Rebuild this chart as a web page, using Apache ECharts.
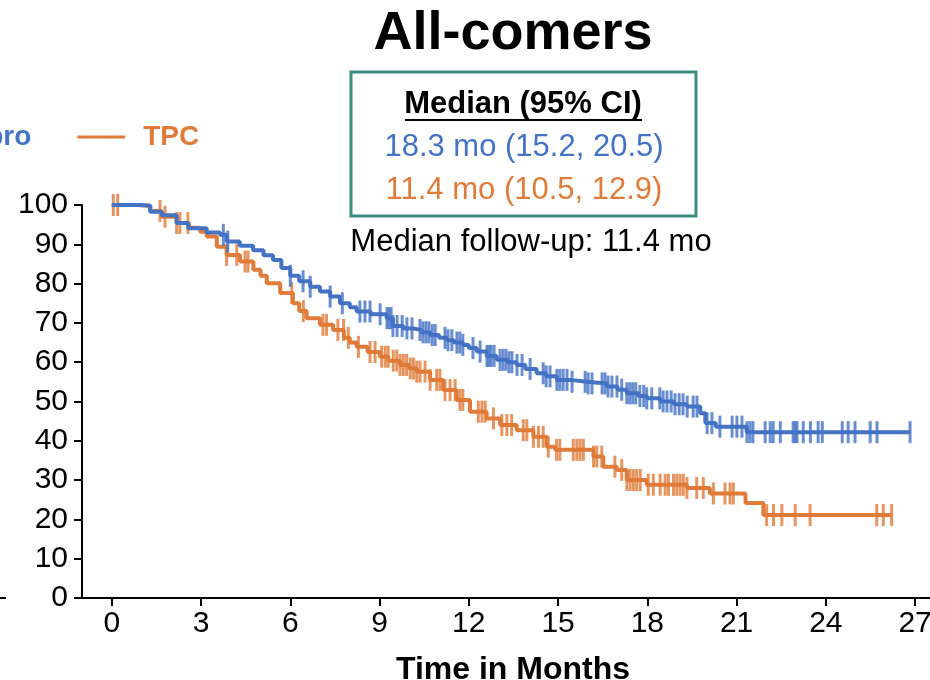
<!DOCTYPE html>
<html>
<head>
<meta charset="utf-8">
<title>All-comers</title>
<script src="https://cdn.jsdelivr.net/npm/echarts@6/dist/echarts.min.js"></script>
</head>
<body style="margin:0;background:#fff">
<div id="main" style="width:930px;height:680px;"></div>
<script type="text/javascript">
var xTicks = [0, 3, 6, 9, 12, 15, 18, 21, 24, 27];
var seriesNames = ['Pembro', 'TPC'];
var colors = ['#4472C4', '#E07B39'];

// step points [month, % surviving]
var blueSteps = [
  [0, 100], [0.95, 99.8], [1.29, 98.3], [1.68, 97.4], [2.18, 95.4], [2.57, 94.1],
  [3.19, 93], [3.64, 92.4], [3.86, 90.7], [4.3, 89.6], [4.75, 88.5], [5.1, 87.2],
  [5.42, 86], [5.7, 84], [6.0, 82], [6.3, 80.6], [6.67, 79.2], [7.0, 78],
  [7.34, 76.7], [7.67, 75], [8.0, 74], [8.23, 72.9], [8.7, 72.2], [9.24, 71.2],
  [9.45, 69.2], [9.8, 68.6], [10.13, 68.2], [10.4, 67.6], [10.7, 66.9], [11.0, 66.2],
  [11.26, 65.6], [11.5, 65], [11.8, 64.4], [12.0, 63.6], [12.27, 62.7], [12.6, 61.6],
  [12.94, 60.6], [13.3, 60], [13.61, 59.3], [13.9, 58.3], [14.28, 57.2], [14.6, 56.4],
  [14.96, 55.5], [15.4, 55], [15.96, 54.6], [16.64, 53.8], [17.0, 53], [17.31, 52.1],
  [17.7, 51.4], [17.98, 50.8], [18.43, 50], [18.9, 49.3], [19.33, 48.7], [19.78, 47],
  [19.95, 44.5], [20.3, 43.6], [21.34, 42.2], [26.83, 42.2]
];
var orangeSteps = [
  [0, 100], [0.84, 99.8], [1.3, 98.5], [1.68, 97], [2.18, 95.4], [2.6, 94.2],
  [2.97, 93.2], [3.19, 92], [3.53, 89.4], [3.86, 87.3], [4.31, 85.6], [4.76, 83.5],
  [5.0, 82], [5.21, 80.1], [5.66, 77.6], [6.09, 75], [6.3, 73], [6.55, 71.2],
  [7.0, 69.5], [7.44, 68.2], [7.8, 66.2], [8.0, 65], [8.23, 63.9], [8.6, 62.6],
  [9.02, 61.4], [9.3, 60.4], [9.69, 59.3], [10.0, 58.4], [10.25, 57.6], [10.7, 55.5],
  [11.14, 52.9], [11.59, 50.4], [12.04, 47.4], [12.6, 45.7], [13.05, 44], [13.61, 42.7],
  [14.17, 41], [14.62, 38.5], [14.9, 37.7], [16.19, 36], [16.52, 33.4], [16.97, 32.6],
  [17.31, 30], [17.98, 28.8], [19.33, 28], [20.1, 26.6], [21.3, 24.2], [21.9, 21.1],
  [26.21, 21.1]
];

// censored times (months)
var blueCensor = [
  3.75, 3.9, 6.0, 6.43, 6.67, 7.34, 7.75,
  8.34, 8.51, 8.68, 9.02, 9.25, 9.32, 9.39, 9.45, 9.59, 9.76, 9.92, 10.09,
  10.36, 10.46, 10.56, 10.66, 10.77, 10.87, 11.2, 11.3, 11.43, 11.6, 11.7, 11.8,
  12.14, 12.38, 12.61, 12.68, 12.75, 12.85, 13.05, 13.15, 13.25, 13.35, 13.45,
  13.62, 13.79, 14.06, 14.5, 14.6, 14.73, 14.96, 15.06, 15.17, 15.3, 15.47,
  15.91, 16.01, 16.14, 16.48, 16.58, 16.68, 16.81, 16.98, 17.14, 17.31, 17.41,
  17.51, 17.61, 17.75, 17.88, 17.98, 18.15, 18.42, 18.53, 18.66, 18.8, 18.93,
  19.07, 19.2, 19.34, 19.54, 19.67, 20.01, 20.17, 20.44, 20.85, 21.01, 21.18,
  21.35, 21.45, 21.55, 21.96, 22.13, 22.23, 22.47, 22.9, 22.97, 23.03, 23.24,
  23.48, 23.74, 23.88, 24.55, 24.75, 24.98, 25.49, 25.72, 26.83
];
var orangeCensor = [
  0.05, 0.2, 1.62, 1.79, 2.18, 2.29, 2.56, 3.86, 4.2, 4.48, 4.58, 6.05, 6.44,
  7.1, 7.22, 7.6, 7.79, 7.95, 8.29, 8.68, 8.85, 9.07, 9.19, 9.29, 9.46, 9.58,
  9.69, 9.8, 9.91, 10.03, 10.14, 10.25, 10.36, 10.53, 10.7, 10.92, 11.03, 11.2,
  11.37, 11.54, 11.7, 11.8, 12.32, 12.44, 12.55, 12.83, 13.11, 13.28, 13.44,
  13.83, 13.95, 14.17, 14.34, 14.5, 14.67, 14.95, 15.06, 15.51, 15.63, 15.74,
  15.85, 16.19, 16.3, 16.47, 16.91, 17.14, 17.31, 17.42, 17.53, 17.64, 17.76,
  18.03, 18.2, 18.43, 18.6, 18.71, 18.88, 18.99, 19.1, 19.21, 19.33, 19.66,
  19.88, 20.22, 20.61, 20.78, 20.89, 22.01, 22.24, 22.52, 22.97, 23.47,
  25.71, 25.93, 26.21
];

function survAt(steps, t) {
  var v = steps[0][1];
  for (var i = 0; i < steps.length; i++) {
    if (steps[i][0] <= t) v = steps[i][1];
  }
  return v;
}
function marks(steps, times) {
  return times.map(function (t) { return [t, survAt(steps, t)]; });
}

var font = 'Liberation Sans, Arial, sans-serif';
var myChart = echarts.init(document.getElementById('main'));

option = {
  animation: false,
  textStyle: { fontFamily: font },
  legend: {
    data: seriesNames,
    left: -144,
    top: 118,
    icon: 'rect',
    itemWidth: 48,
    itemHeight: 3,
    itemGap: 46,
    textStyle: { fontSize: 28, fontWeight: 'bold', fontFamily: font, padding: [0, 0, 0, 13], color: 'inherit' }
  },
  grid: { left: 82, right: 0, top: 205, bottom: 82, containLabel: false, outerBoundsMode: 'none' },
  xAxis: {
    type: 'value',
    min: -1,
    max: 27.5,
    name: 'Time in Months',
    nameLocation: 'middle',
    nameGap: 56,
    nameTextStyle: { fontSize: 32, fontWeight: 'bold', color: '#000', fontFamily: font, padding: [0, 0, 0, 14] },
    axisLine: { lineStyle: { color: '#000', width: 2 } },
    axisTick: { customValues: xTicks, length: 8, lineStyle: { color: '#000', width: 2 } },
    axisLabel: { customValues: xTicks, fontSize: 30, color: '#000', margin: 11 },
    splitLine: { show: false }
  },
  yAxis: {
    type: 'value',
    min: 0,
    max: 100,
    interval: 10,
    axisLine: { show: true, onZero: false, lineStyle: { color: '#000', width: 2 } },
    axisTick: { show: true, length: 8, lineStyle: { color: '#000', width: 2 } },
    axisLabel: { fontSize: 30, color: '#000', margin: 14 },
    splitLine: { show: false }
  },
  graphic: [
    { type: 'text', x: 513, y: 34, style: { text: 'All-comers', font: 'bold 54px ' + font, fill: '#000', textAlign: 'center', textVerticalAlign: 'middle' } },
    { type: 'rect', shape: { x: 351, y: 72, width: 345, height: 144 }, style: { fill: 'none', stroke: '#3C8C7C', lineWidth: 3 } },
    { type: 'text', x: 523, y: 104, style: { text: 'Median (95% CI)', font: 'bold 31px ' + font, fill: '#000', textAlign: 'center', textVerticalAlign: 'middle' } },
    { type: 'line', shape: { x1: 405, y1: 120, x2: 642, y2: 120 }, style: { stroke: '#000', lineWidth: 2 } },
    { type: 'text', x: 524, y: 147, style: { text: '18.3 mo (15.2, 20.5)', font: '31px ' + font, fill: colors[0], textAlign: 'center', textVerticalAlign: 'middle' } },
    { type: 'text', x: 524, y: 190, style: { text: '11.4 mo (10.5, 12.9)', font: '31px ' + font, fill: colors[1], textAlign: 'center', textVerticalAlign: 'middle' } },
    { type: 'text', x: 531, y: 242, style: { text: 'Median follow-up: 11.4 mo', font: '31px ' + font, fill: '#000', textAlign: 'center', textVerticalAlign: 'middle' } },
    { type: 'line', shape: { x1: 0, y1: 598, x2: 6, y2: 598 }, style: { stroke: '#000', lineWidth: 2 } }
  ],
  series: [
    {
      name: seriesNames[0], type: 'line', step: 'end', data: blueSteps,
      showSymbol: false, color: colors[0], lineStyle: { width: 4 }, z: 3
    },
    {
      name: seriesNames[1], type: 'line', step: 'end', data: orangeSteps,
      showSymbol: false, color: colors[1], lineStyle: { width: 4 }, z: 2
    },
    {
      name: seriesNames[0] + ' censored', type: 'scatter', data: marks(blueSteps, blueCensor),
      symbol: 'rect', symbolSize: [3, 22], color: colors[0], clip: false, z: 3
    },
    {
      name: seriesNames[1] + ' censored', type: 'scatter', data: marks(orangeSteps, orangeCensor),
      symbol: 'rect', symbolSize: [3, 22], color: colors[1], clip: false, z: 2
    }
  ]
};

myChart.setOption(option);
</script>
</body>
</html>
